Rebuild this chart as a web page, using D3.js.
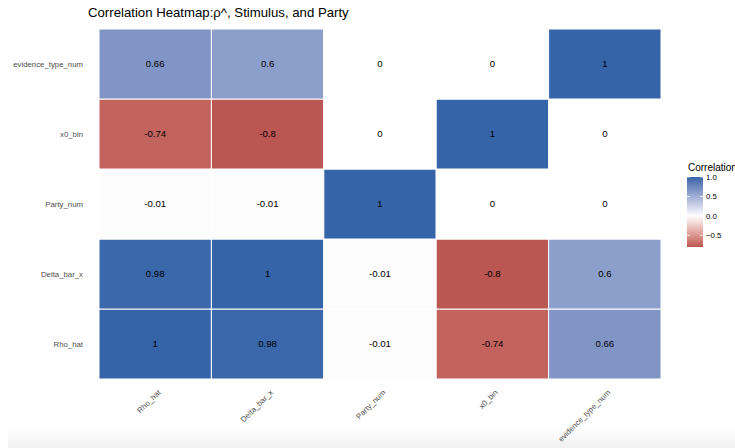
<!DOCTYPE html>
<html>
<head>
<meta charset="utf-8">
<script src="https://cdn.jsdelivr.net/npm/d3@7"></script>
<style>
  html, body { margin: 0; padding: 0; background: #fff; }
  svg { display: block; font-family: "Liberation Sans", Arial, Helvetica, sans-serif; }
</style>
</head>
<body>
<svg id="chart" width="735" height="448"></svg>
<script>
// Variables, in axis order (x left→right, y bottom→top)
const variables = ["Rho_hat", "Delta_bar_x", "Party_num", "x0_bin", "evidence_type_num"];

// Correlation rows, one per variable, columns in the same order
const rhoHat        = [1, 0.98, -0.01, -0.74, 0.66];
const deltaBarX     = [0.98, 1, -0.01, -0.8, 0.6];
const partyNum      = [-0.01, -0.01, 1, 0, 0];
const x0Bin         = [-0.74, -0.8, 0, 1, 0];
const evidenceType  = [0.66, 0.6, 0, 0, 1];

const legendTicks = [1.0, 0.5, 0.0, -0.5];
const legendLimits = [-0.8, 1];

const rows = [rhoHat, deltaBarX, partyNum, x0Bin, evidenceType];
const cells = [];
rows.forEach((vals, i) => vals.forEach((v, j) => cells.push({ y: variables[i], x: variables[j], value: v })));

const svg = d3.select("#chart");
const panel = { left: 99, right: 661, top: 29, bottom: 379 };

const x = d3.scaleBand().domain(variables).range([panel.left, panel.right]);
const y = d3.scaleBand().domain(variables).range([panel.bottom, panel.top]);

// diverging fill: low red, white at zero, high blue
const color = d3.scaleLinear()
  .domain([-1, 0, 1])
  .range(["#a5252d", "#ffffff", "#3664a9"])
  .interpolate(d3.interpolateLab);

// soft grey band along the bottom edge
const defs = svg.append("defs");
const fade = defs.append("linearGradient").attr("id", "fade").attr("x1", 0).attr("x2", 0).attr("y1", 0).attr("y2", 1);
fade.append("stop").attr("offset", "0%").attr("stop-color", "#ffffff");
fade.append("stop").attr("offset", "100%").attr("stop-color", "#f1f1f1");
svg.append("rect").attr("x", 8).attr("y", 428).attr("width", 727).attr("height", 20).attr("fill", "url(#fade)");

// tiles
svg.append("g").selectAll("rect").data(cells).join("rect")
  .attr("x", d => x(d.x))
  .attr("y", d => y(d.y))
  .attr("width", x.bandwidth())
  .attr("height", y.bandwidth())
  .attr("fill", d => color(d.value))
  .attr("stroke", "#ffffff")
  .attr("stroke-width", 1);

// values
svg.append("g").selectAll("text").data(cells).join("text")
  .attr("x", d => x(d.x) + x.bandwidth() / 2)
  .attr("y", d => y(d.y) + y.bandwidth() / 2)
  .attr("dy", "0.35em")
  .attr("text-anchor", "middle")
  .attr("font-size", 9.6)
  .attr("fill", "#000")
  .text(d => String(d.value));

// y axis labels
const yAxis = svg.append("g").attr("transform", `translate(${panel.left - 16},0)`)
  .call(d3.axisLeft(y).tickSize(0).tickPadding(0));
yAxis.select(".domain").remove();
yAxis.selectAll("text").attr("font-size", 7.8).attr("fill", "#4d4d4d").attr("font-family", "Liberation Sans, Arial, sans-serif");

// x axis labels, rotated 45°
const xAxis = svg.append("g").attr("transform", `translate(0,${panel.bottom})`)
  .call(d3.axisBottom(x).tickSize(0).tickPadding(0));
xAxis.select(".domain").remove();
xAxis.selectAll("text")
  .attr("font-size", 7.8)
  .attr("fill", "#4d4d4d")
  .attr("font-family", "Liberation Sans, Arial, sans-serif")
  .attr("text-anchor", "end")
  .attr("dy", null)
  .attr("y", 0)
  .attr("transform", "translate(6,14) rotate(-45)");

// title
svg.append("text")
  .attr("x", 88).attr("y", 17)
  .attr("font-size", 13.2)
  .attr("fill", "#000")
  .text("Correlation Heatmap:ρ^, Stimulus, and Party");

// legend
const lg = svg.append("g");
const barX = 687, barW = 16, barTop = 177, barBottom = 247;
const ly = d3.scaleLinear().domain(legendLimits).range([barBottom, barTop]);
const grad = defs.append("linearGradient").attr("id", "legendGrad").attr("x1", 0).attr("x2", 0).attr("y1", 1).attr("y2", 0);
d3.range(0, 21).forEach(k => {
  const v = legendLimits[0] + (legendLimits[1] - legendLimits[0]) * k / 20;
  grad.append("stop").attr("offset", `${k * 5}%`).attr("stop-color", color(v));
});
lg.append("rect").attr("x", barX).attr("y", barTop).attr("width", barW).attr("height", barBottom - barTop).attr("fill", "url(#legendGrad)");
legendTicks.forEach(t => {
  lg.append("line").attr("x1", barX).attr("x2", barX + 3).attr("y1", ly(t)).attr("y2", ly(t)).attr("stroke", "#fff").attr("stroke-width", 0.8);
  lg.append("line").attr("x1", barX + barW - 3).attr("x2", barX + barW).attr("y1", ly(t)).attr("y2", ly(t)).attr("stroke", "#fff").attr("stroke-width", 0.8);
  lg.append("text").attr("x", barX + barW + 3).attr("y", ly(t)).attr("dy", "0.35em")
    .attr("font-size", 7.8).attr("fill", "#000").text(d3.format(".1f")(t));
});
lg.append("text").attr("x", 688).attr("y", 171).attr("font-size", 10).attr("fill", "#000").text("Correlation");
</script>
</body>
</html>
